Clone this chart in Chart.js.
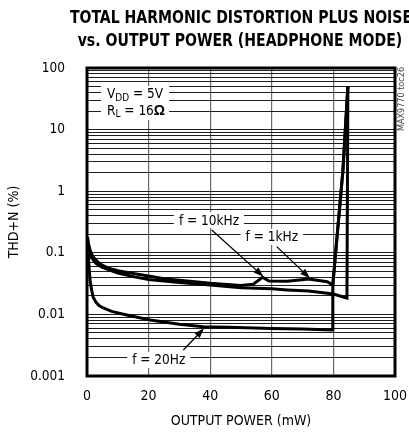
<!DOCTYPE html>
<html>
<head>
<meta charset="utf-8">
<script src="https://cdn.jsdelivr.net/npm/chart.js@4.4.1/dist/chart.umd.min.js"></script>
<style>
  html, body { margin: 0; padding: 0; background: #fff; }
  #wrap { position: relative; width: 409px; height: 433px; overflow: hidden; }
  #c { position: absolute; left: 0; top: 0; }
  .ttl { position: absolute; display: inline-block; white-space: nowrap; transform-origin: 50% 50%;
         font-family: "DejaVu Sans Condensed", "Liberation Sans Narrow", sans-serif; font-weight: bold;
         font-size: 18px; color: #000; line-height: 20px; }
</style>
</head>
<body>
<div id="wrap">
  <canvas id="c" width="409" height="433"></canvas>
  <span class="ttl" data-w="342" style="top:7px; left:241px">TOTAL HARMONIC DISTORTION PLUS NOISE</span>
  <span class="ttl" data-w="325" style="top:30px; left:240px">vs. OUTPUT POWER (HEADPHONE MODE)</span>
</div>
<script>
// ---- data (output power in mW, THD+N in %) ----
const xTicks = [0, 20, 40, 60, 80, 100];
const yTickLabels = ['0.001', '0.01', '0.1', '1', '10', '100'];

const power20Hz = [0.2, 0.6, 1.0, 1.5, 2.0, 3.0, 4.0, 5.3, 8.0, 12.9, 20.5, 30, 37.8, 46, 60, 70, 79.6, 79.8, 83.1, 84.7];
const thd20Hz   = [0.15, 0.065, 0.036, 0.025, 0.019, 0.0155, 0.0138, 0.0127, 0.0112, 0.0098, 0.0081, 0.0069, 0.0063, 0.0062, 0.0059, 0.0058, 0.0056, 0.030, 2.2, 51];

const power1kHz = [0.2, 0.5, 1, 2, 4, 7, 10, 15, 20, 25, 30, 40, 50, 54, 57, 59, 65, 72, 78, 79.8, 83.1, 84.7];
const thd1kHz   = [0.18, 0.14, 0.11, 0.085, 0.067, 0.056, 0.051, 0.046, 0.042, 0.038, 0.036, 0.032, 0.0295, 0.031, 0.040, 0.035, 0.0345, 0.0376, 0.034, 0.030, 2.2, 51];

const power10kHz = [0.2, 1, 2, 3, 5, 10, 15, 20, 30, 40, 50, 60, 65, 72, 80, 83.5, 84.4, 84.7];
const thd10kHz   = [0.14, 0.095, 0.077, 0.067, 0.058, 0.047, 0.041, 0.037, 0.033, 0.030, 0.027, 0.026, 0.025, 0.024, 0.0214, 0.019, 0.0185, 51];

const annoLabels = [
  { text: 'f = 10kHz', x: 39.6, y: 0.34 },
  { text: 'f = 1kHz',  x: 60.0, y: 0.182 },
  { text: 'f = 20Hz',  x: 23.3, y: 0.00182 }
];
const annoArrows = [
  { x0: 40.5, y0: 0.234,  x1: 57.3, y1: 0.041 },
  { x0: 61.6, y0: 0.126,  x1: 72.4, y1: 0.0386 },
  { x0: 31.3, y0: 0.00264, x1: 38.0, y1: 0.00594 }
];

// fit title lines to the reference widths
document.querySelectorAll('.ttl').forEach(el => {
  const w = el.offsetWidth;
  const k = Number(el.dataset.w) / w;
  el.style.transform = 'translateX(-50%) scaleX(' + k + ')';
});

const FONT = '"DejaVu Sans Condensed", "Liberation Sans Narrow", sans-serif';
const pts = (xs, ys) => xs.map((x, i) => ({ x: x, y: ys[i] }));

// all log ticks 1..9 x 10^n
const logTicks = [];
for (let e = -3; e <= 2; e++) {
  for (let k = 1; k <= 9; k++) {
    const v = Number((k * Math.pow(10, e)).toPrecision(3));
    if (v <= 100) logTicks.push(v);
  }
}
const isMajor = v => Math.abs(Math.log10(v) - Math.round(Math.log10(v))) < 1e-9;

const annoPlugin = {
  id: 'anno',
  beforeDatasetsDraw(chart) {
    const { ctx, chartArea: a } = chart;
    ctx.save();
    ctx.strokeStyle = '#000';
    ctx.lineWidth = 3;
    ctx.strokeRect(a.left, a.top, a.right - a.left, a.bottom - a.top);
    ctx.restore();
  },
  afterDatasetsDraw(chart) {
    const { ctx } = chart;
    const xs = chart.scales.x, ys = chart.scales.y;
    ctx.save();
    ctx.font = '13.5px ' + FONT;
    ctx.textBaseline = 'middle';
    ctx.textAlign = 'center';
    // labels with white boxes
    annoLabels.forEach(l => {
      const px = xs.getPixelForValue(l.x), py = ys.getPixelForValue(l.y);
      const w = ctx.measureText(l.text).width + 10;
      ctx.fillStyle = '#fff';
      ctx.fillRect(px - w / 2, py - 8, w, 16);
      ctx.fillStyle = '#000';
      ctx.fillText(l.text, px, py + 1);
    });
    // arrows
    annoArrows.forEach(ar => {
      const x0 = xs.getPixelForValue(ar.x0), y0 = ys.getPixelForValue(ar.y0);
      const x1 = xs.getPixelForValue(ar.x1), y1 = ys.getPixelForValue(ar.y1);
      const ang = Math.atan2(y1 - y0, x1 - x0);
      ctx.strokeStyle = '#000';
      ctx.lineWidth = 1.3;
      ctx.beginPath(); ctx.moveTo(x0, y0); ctx.lineTo(x1 - 6 * Math.cos(ang), y1 - 6 * Math.sin(ang)); ctx.stroke();
      ctx.fillStyle = '#000';
      ctx.beginPath();
      ctx.moveTo(x1, y1);
      ctx.lineTo(x1 - 10 * Math.cos(ang) + 3.5 * Math.sin(ang), y1 - 10 * Math.sin(ang) - 3.5 * Math.cos(ang));
      ctx.lineTo(x1 - 10 * Math.cos(ang) - 3.5 * Math.sin(ang), y1 - 10 * Math.sin(ang) + 3.5 * Math.cos(ang));
      ctx.closePath(); ctx.fill();
    });
    // supply / load box
    const bx = xs.getPixelForValue(15.6);
    const y1 = ys.getPixelForValue(36.5), y2 = ys.getPixelForValue(20);
    ctx.fillStyle = '#fff';
    ctx.fillRect(bx - 34, y1 - 9, 68, (y2 - y1) + 18);
    ctx.fillStyle = '#000';
    ctx.textAlign = 'left';
    let x = bx - 28;
    ctx.font = '13.5px ' + FONT;
    ctx.fillText('V', x, y1); x += ctx.measureText('V').width;
    ctx.font = '10px ' + FONT;
    ctx.fillText('DD', x, y1 + 3); x += ctx.measureText('DD').width;
    ctx.font = '13.5px ' + FONT;
    ctx.fillText(' = 5V', x, y1);
    x = bx - 28;
    ctx.fillText('R', x, y2); x += ctx.measureText('R').width;
    ctx.font = '10px ' + FONT;
    ctx.fillText('L', x, y2 + 3); x += ctx.measureText('L').width;
    ctx.font = '13.5px ' + FONT;
    ctx.fillText(' = 16', x, y2); x += ctx.measureText(' = 16').width;
    ctx.font = 'bold 14px "Liberation Sans", sans-serif';
    ctx.fillText('\u03A9', x, y2);
    // figure code
    ctx.save();
    ctx.translate(402, 99);
    ctx.rotate(-Math.PI / 2);
    ctx.textAlign = 'center';
    ctx.font = '9px ' + FONT;
    ctx.fillStyle = '#444';
    ctx.fillText('MAX9770 toc26', 0, 0);
    ctx.restore();
    ctx.restore();
  }
};

const lineDs = (label, xs, ys) => ({
  label: label,
  data: pts(xs, ys),
  showLine: true,
  borderColor: '#000',
  backgroundColor: '#000',
  borderWidth: 3,
  pointRadius: 0,
  tension: 0,
  fill: false
});

new Chart(document.getElementById('c'), {
  type: 'scatter',
  data: {
    datasets: [
      lineDs('f = 20Hz', power20Hz, thd20Hz),
      lineDs('f = 1kHz', power1kHz, thd1kHz),
      lineDs('f = 10kHz', power10kHz, thd10kHz)
    ]
  },
  options: {
    responsive: false,
    devicePixelRatio: 1,
    animation: false,
    layout: { padding: { left: 0, right: 14, top: 68, bottom: 0 } },
    plugins: { legend: { display: false }, tooltip: { enabled: false }, title: { display: false } },
    scales: {
      x: {
        type: 'linear', min: 0, max: 100,
        afterBuildTicks: s => { s.ticks = xTicks.map(v => ({ value: v })); },
        afterFit: s => { s.height = 57; s.paddingLeft = 0; s.paddingRight = 0; },
        grid: { color: '#6a6a6a', lineWidth: 1.2, drawTicks: false },
        border: { display: false },
        ticks: { color: '#000', padding: 12, font: { family: FONT, size: 14 }, maxRotation: 0, autoSkip: false },
        title: { display: true, text: 'OUTPUT POWER (mW)', color: '#000', font: { family: FONT, size: 14 }, padding: { top: 0, bottom: 3 } }
      },
      y: {
        type: 'logarithmic', min: 0.001, max: 100,
        afterBuildTicks: s => { s.ticks = logTicks.map(v => ({ value: v, major: isMajor(v) })); },
        afterFit: s => { s.width = 87; s.paddingTop = 0; s.paddingBottom = 0; },
        grid: { color: '#1e1e1e', lineWidth: 1, drawTicks: false },
        border: { display: false },
        ticks: {
          color: '#000', padding: 22, autoSkip: false, font: { family: FONT, size: 13.5 },
          callback: v => isMajor(v) ? yTickLabels[Math.round(Math.log10(v)) + 3] : ''
        },
        title: { display: true, text: 'THD+N (%)', color: '#000', font: { family: FONT, size: 14 }, padding: { top: 6, bottom: 0 } }
      }
    }
  },
  plugins: [annoPlugin]
});
</script>
</body>
</html>
